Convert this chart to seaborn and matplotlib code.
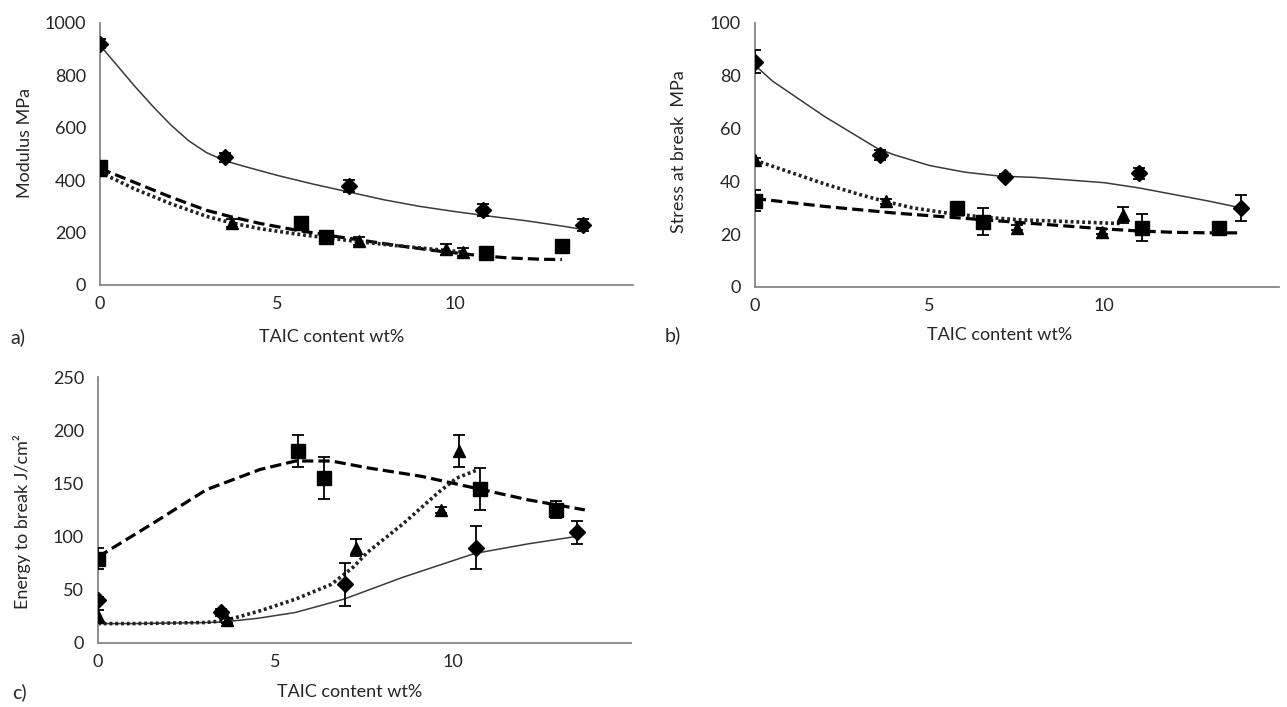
import matplotlib
matplotlib.use("Agg")
import matplotlib.pyplot as plt
import seaborn as sns

sns.set_style("white")
plt.rcParams["font.family"] = ["Lato", "DejaVu Sans"]

# ---- data ----
# a) Modulus MPa
a_dia_x = [0, 3.52, 7.0, 10.78, 13.6]
a_dia_y = [921, 487, 377, 286, 229]
a_dia_e = [18, 18, 22, 22, 22]
a_sq_x = [0, 5.67, 6.37, 10.87, 13.0]
a_sq_y = [450, 235, 184, 121, 150]
a_sq_e = [20, 8, 8, 10, 8]
a_tri_x = [0, 3.71, 7.3, 9.75, 10.23]
a_tri_y = [440, 235, 168, 136, 127]
a_tri_e = [15, 15, 15, 20, 15]
a_fit_solid_x = [0, 0.5, 1, 1.5, 2, 2.5, 3, 3.5, 4, 5, 6, 7, 8, 9, 10, 11, 12, 13, 13.6]
a_fit_solid_y = [915, 835, 755, 680, 610, 550, 505, 475, 455, 418, 385, 355, 325, 300, 280, 262, 245, 225, 212]
a_fit_dash_x = [0, 1, 2, 3, 3.7, 4.5, 5.5, 6.5, 7.5, 8.5, 9.5, 10.5, 11.5, 12.5, 13]
a_fit_dash_y = [445, 390, 335, 285, 260, 235, 210, 188, 168, 148, 130, 115, 103, 98, 97]
a_fit_dot_x = [0, 1, 2, 3, 3.7, 4.5, 5.5, 6.5, 7.5, 8.5, 9.5, 10.3]
a_fit_dot_y = [430, 365, 310, 262, 237, 215, 195, 178, 162, 148, 135, 125]

# b) Stress at break MPa
b_dia_x = [0, 3.57, 7.17, 10.99, 13.9]
b_dia_y = [85.4, 50, 41.8, 43, 30]
b_dia_e = [4.5, 2, 1, 2, 5]
b_sq_x = [0, 5.77, 6.53, 11.09, 13.27]
b_sq_y = [32.7, 30, 24.8, 22.5, 22.3]
b_sq_e = [4, 1, 5, 5, 1]
b_tri_x = [0, 3.74, 7.5, 9.94, 10.53]
b_tri_y = [48, 32.5, 22.5, 21, 27.4]
b_tri_e = [1, 1, 1, 1, 3]
b_fit_solid_x = [0, 0.5, 1, 1.5, 2, 2.5, 3, 3.5, 4, 5, 6, 7, 8, 9, 10, 11, 12, 13, 13.9]
b_fit_solid_y = [84, 78, 73.5, 69, 64.5, 60.5, 56.5, 52.5, 50, 46, 43.5, 42, 41.5, 40.5, 39.5, 37.5, 35, 32.5, 30]
b_fit_dash_x = [0, 2, 4, 6, 8, 10, 11, 12, 13, 13.9]
b_fit_dash_y = [33.5, 30.5, 28, 26, 24, 22, 21.2, 20.7, 20.5, 20.5]
b_fit_dot_x = [0, 1, 2, 3, 3.7, 4.5, 5.5, 6.5, 7.5, 8.5, 9.5, 10.5]
b_fit_dot_y = [48, 43.5, 39, 35, 32.5, 30, 28, 26.5, 25.5, 25, 24.5, 24]

# c) Energy to break J/cm2
c_dia_x = [0, 3.45, 6.94, 10.64, 13.47]
c_dia_y = [40, 28.6, 55, 89.5, 104]
c_dia_e = [3, 3, 20, 20, 11]
c_sq_x = [0, 5.63, 6.36, 10.75, 12.89]
c_sq_y = [79, 180, 155, 144.5, 125]
c_sq_e = [10, 15, 20, 20, 8]
c_tri_x = [0, 3.62, 7.26, 9.66, 10.17]
c_tri_y = [25, 21, 89.5, 125, 180]
c_tri_e = [6, 2, 8, 3, 15]
c_fit_solid_x = [0, 1, 2, 3, 3.55, 4.5, 5.56, 6.92, 8.59, 10.6, 12.1, 13.4]
c_fit_solid_y = [18, 18, 18.5, 19, 19.6, 23, 28.5, 41, 61.7, 84, 93, 99.7]
c_fit_dash_x = [0, 1.53, 3.05, 4.56, 5.56, 6.57, 7.58, 9.1, 10.6, 12.1, 13.7]
c_fit_dash_y = [80.7, 112, 144, 163, 171, 171, 164.6, 156.6, 145.6, 134.5, 125]
c_fit_dot_x = [0, 1, 2, 3, 3.55, 4.56, 5.56, 6.57, 7.18, 7.58, 8.59, 9.6, 10.1, 10.7]
c_fit_dot_y = [18, 18, 18.5, 19, 20.6, 30, 41, 55, 71, 85, 112, 142, 155, 163]

AXIS_GREY = "#868686"
TEXT = "#262626"
DASH = (0, (3.5, 1.6))
DOT = (0, (0.8, 0.8))
FS = 13


def style_axis(ax, ymax, ystep):
    ax.set_xlim(0, 15)
    ax.set_ylim(0, ymax)
    ax.set_xticks([0, 5, 10])
    ax.set_yticks(list(range(0, ymax + 1, ystep)))
    for s in ["top", "right"]:
        ax.spines[s].set_visible(False)
    for s in ["left", "bottom"]:
        ax.spines[s].set_color(AXIS_GREY)
        ax.spines[s].set_linewidth(1.3)
    ax.tick_params(axis="both", direction="out", length=5, width=1.2,
                   color=AXIS_GREY, labelsize=FS, labelcolor=TEXT)
    ax.tick_params(axis="x", pad=3)
    ax.tick_params(axis="y", pad=5)
    ax.set_xlabel("")
    ax.set_ylabel("")


def draw_panel(ax, fits, points):
    for (fx, fy, ls, lw, col) in fits:
        sns.lineplot(x=fx, y=fy, ax=ax, color=col, linestyle=ls, linewidth=lw,
                     sort=False, estimator=None)
    for (px, py, pe, mk, ms) in points:
        ax.errorbar(px, py, yerr=pe, fmt=mk, ms=ms, color="black", mfc="black",
                    mec="black", ecolor="black", elinewidth=1.3, capsize=4,
                    capthick=1.3, zorder=4)


fig = plt.figure(figsize=(12.87, 7.07), dpi=100)
ax_a = fig.add_axes([0.0777, 0.5969, 0.4141, 0.3706])
ax_b = fig.add_axes([0.5866, 0.5941, 0.4072, 0.3734])
ax_c = fig.add_axes([0.0761, 0.0909, 0.4142, 0.3758])

draw_panel(ax_a,
           [(a_fit_solid_x, a_fit_solid_y, "-", 1.1, "#3a3a3a"),
            (a_fit_dash_x, a_fit_dash_y, DASH, 2.3, "black"),
            (a_fit_dot_x, a_fit_dot_y, DOT, 2.6, "#222222")],
           [(a_dia_x, a_dia_y, a_dia_e, "D", 8),
            (a_sq_x, a_sq_y, a_sq_e, "s", 10),
            (a_tri_x, a_tri_y, a_tri_e, "^", 9)])
style_axis(ax_a, 1000, 200)

draw_panel(ax_b,
           [(b_fit_solid_x, b_fit_solid_y, "-", 1.1, "#3a3a3a"),
            (b_fit_dash_x, b_fit_dash_y, DASH, 2.3, "black"),
            (b_fit_dot_x, b_fit_dot_y, DOT, 2.6, "#222222")],
           [(b_dia_x, b_dia_y, b_dia_e, "D", 8),
            (b_sq_x, b_sq_y, b_sq_e, "s", 10),
            (b_tri_x, b_tri_y, b_tri_e, "^", 9)])
style_axis(ax_b, 100, 20)

draw_panel(ax_c,
           [(c_fit_solid_x, c_fit_solid_y, "-", 1.1, "#3a3a3a"),
            (c_fit_dash_x, c_fit_dash_y, DASH, 2.3, "black"),
            (c_fit_dot_x, c_fit_dot_y, DOT, 2.6, "#222222")],
           [(c_dia_x, c_dia_y, c_dia_e, "D", 8),
            (c_sq_x, c_sq_y, c_sq_e, "s", 10),
            (c_tri_x, c_tri_y, c_tri_e, "^", 9)])
style_axis(ax_c, 250, 50)

# y labels
fig.text(25 / 1287, 1 - 143 / 707, "Modulus MPa", rotation=90, ha="center",
         va="center", fontsize=FS, color=TEXT)
fig.text(679 / 1287, 1 - 152 / 707, "Stress at break  MPa", rotation=90,
         ha="center", va="center", fontsize=FS, color=TEXT)
fig.text(22 / 1287, 1 - 522 / 707, "Energy to break J/cm²", rotation=90,
         ha="center", va="center", fontsize=FS, color=TEXT)

# x labels and panel letters
fig.text(332 / 1287, 1 - 337 / 707, "TAIC content wt%", ha="center", va="center",
         fontsize=FS, color=TEXT)
fig.text(1000 / 1287, 1 - 335 / 707, "TAIC content wt%", ha="center", va="center",
         fontsize=FS, color=TEXT)
fig.text(350 / 1287, 1 - 692 / 707, "TAIC content wt%", ha="center", va="center",
         fontsize=FS, color=TEXT)
fig.text(10 / 1287, 1 - 337 / 707, "a)", ha="left", va="center", fontsize=FS + 1, color=TEXT)
fig.text(665 / 1287, 1 - 335 / 707, "b)", ha="left", va="center", fontsize=FS + 1, color=TEXT)
fig.text(12 / 1287, 1 - 692 / 707, "c)", ha="left", va="center", fontsize=FS + 1, color=TEXT)

fig.savefig("out.png", dpi=100)
